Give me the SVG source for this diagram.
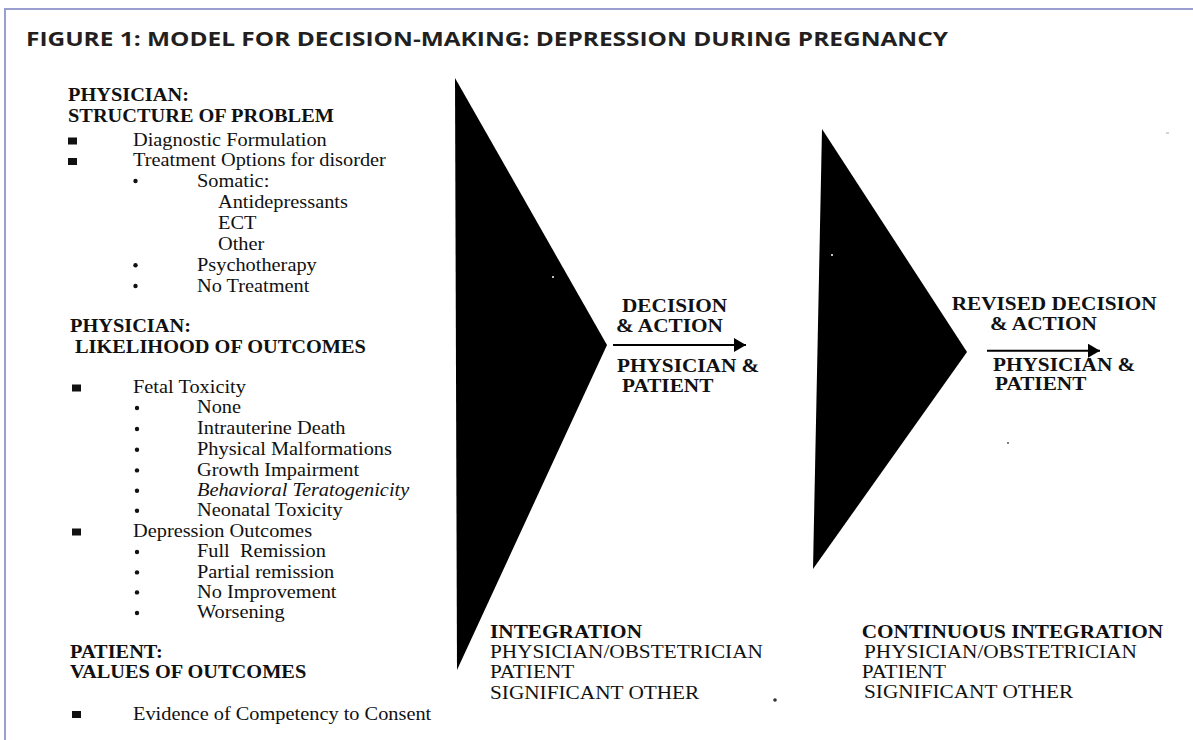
<svg xmlns="http://www.w3.org/2000/svg" width="1193" height="740" viewBox="0 0 1193 740">
<style>
.t{font-family:"Liberation Serif","Times New Roman",serif;font-size:18.5px;fill:#111;white-space:pre}
.b{font-weight:bold}
.i{font-style:italic}
.title{font-family:"Open Sans","Noto Sans",sans-serif;font-weight:bold;font-size:20px;fill:#231f20}
.frame{stroke:#9b9fd0;stroke-width:2;fill:none}
.sq{fill:#111}
.dot{fill:#111}
.conn{stroke:#000;stroke-width:2;fill:none}
</style>
<defs>
<marker id="ah" markerUnits="userSpaceOnUse" markerWidth="13" markerHeight="14" refX="12" refY="7" orient="auto">
<path d="M0,0 L12,7 L0,14 z" fill="#000"/>
</marker>
</defs>
<rect width="1193" height="740" fill="#fff"/>
<g id="frame">
<line class="frame" x1="5" y1="9" x2="1193" y2="9"/>
<line class="frame" x1="5" y1="8" x2="5" y2="740"/>
</g>
<g id="title">
<text class="title" x="26" y="46" textLength="922" lengthAdjust="spacingAndGlyphs">FIGURE 1: MODEL FOR DECISION-MAKING: DEPRESSION DURING PREGNANCY</text>
</g>

<g id="left-list">
<g id="bullets">
<rect class="sq" x="68" y="137.5" width="9" height="7"/>
<rect class="sq" x="68" y="158" width="9" height="7"/>
<circle class="dot" cx="135.5" cy="181" r="2.2"/>
<circle class="dot" cx="135.5" cy="265.3" r="2.2"/>
<circle class="dot" cx="135.5" cy="286" r="2.2"/>
<rect class="sq" x="72" y="384.5" width="9" height="7"/>
<circle class="dot" cx="137" cy="408" r="2.2"/>
<circle class="dot" cx="137" cy="429" r="2.2"/>
<circle class="dot" cx="137" cy="449.7" r="2.2"/>
<circle class="dot" cx="137" cy="470.4" r="2.2"/>
<circle class="dot" cx="137" cy="490.7" r="2.2"/>
<circle class="dot" cx="137" cy="510.7" r="2.2"/>
<rect class="sq" x="72" y="528.5" width="9" height="7"/>
<circle class="dot" cx="137" cy="552" r="2.2"/>
<circle class="dot" cx="137" cy="572.4" r="2.2"/>
<circle class="dot" cx="137" cy="592.4" r="2.2"/>
<circle class="dot" cx="137" cy="613" r="2.2"/>
<rect class="sq" x="72" y="711" width="9" height="7"/>
</g>
<g transform="scale(1.1,1)">
<text class="t b" x="61.82" y="100.7">PHYSICIAN:</text>
<text class="t b" x="61.82" y="122.3">STRUCTURE OF PROBLEM</text>
<text class="t" x="120.91" y="145.7">Diagnostic Formulation</text>
<text class="t" x="120.91" y="166">Treatment Options for disorder</text>
<text class="t" x="179.09" y="186.7">Somatic:</text>
<text class="t" x="198.18" y="208">Antidepressants</text>
<text class="t" x="198.18" y="229">ECT</text>
<text class="t" x="198.18" y="250">Other</text>
<text class="t" x="179.09" y="271">Psychotherapy</text>
<text class="t" x="179.09" y="291.7">No Treatment</text>
<text class="t b" x="63.64" y="331.7">PHYSICIAN:</text>
<text class="t b" x="68.18" y="353.3">LIKELIHOOD OF OUTCOMES</text>
<text class="t" x="120.91" y="393.3">Fetal Toxicity</text>
<text class="t" x="179.09" y="413.3">None</text>
<text class="t" x="179.09" y="434.3">Intrauterine Death</text>
<text class="t" x="179.09" y="455">Physical Malformations</text>
<text class="t" x="179.09" y="475.7">Growth Impairment</text>
<text class="t i" x="179.09" y="496">Behavioral Teratogenicity</text>
<text class="t" x="179.09" y="516">Neonatal Toxicity</text>
<text class="t" x="120.91" y="537.3">Depression Outcomes</text>
<text class="t" x="179.09" y="557.3">Full  Remission</text>
<text class="t" x="179.09" y="577.7">Partial remission</text>
<text class="t" x="179.09" y="597.7">No Improvement</text>
<text class="t" x="179.09" y="618.3">Worsening</text>
<text class="t b" x="63.64" y="658.3">PATIENT:</text>
<text class="t b" x="63.64" y="678.3">VALUES OF OUTCOMES</text>
<text class="t" x="120.91" y="720">Evidence of Competency to Consent</text>
</g>
</g>

<g id="triangle-1">
<polygon points="455,78 607,345 457,670" fill="#000"/>
<circle cx="553" cy="277" r="1" fill="#fff"/>
</g>
<g id="triangle-2">
<polygon points="822,129 967,352 813,569" fill="#000"/>
<circle cx="832" cy="255" r="1" fill="#fff"/>
</g>

<g id="decision-action" transform="scale(1.15,1)">
<text class="t b" x="540.87" y="311.7">DECISION</text>
<text class="t b" x="535.65" y="331.7">&amp; ACTION</text>
<text class="t b" x="536.52" y="371.7">PHYSICIAN &amp;</text>
<text class="t b" x="540.87" y="391.7">PATIENT</text>
</g>
<g id="integration" transform="scale(1.15,1)">
<text class="t b" x="426.09" y="638.3">INTEGRATION</text>
<text class="t" x="426.09" y="658.3">PHYSICIAN/OBSTETRICIAN</text>
<text class="t" x="426.09" y="678.3">PATIENT</text>
<text class="t" x="426.09" y="699">SIGNIFICANT OTHER</text>
</g>
<g id="revised-decision" transform="scale(1.15,1)">
<text class="t b" x="827.57" y="310">REVISED DECISION</text>
<text class="t b" x="860.87" y="330">&amp; ACTION</text>
<text class="t b" x="863.48" y="370.7">PHYSICIAN &amp;</text>
<text class="t b" x="865.22" y="390">PATIENT</text>
</g>
<g id="continuous-integration" transform="scale(1.15,1)">
<text class="t b" x="749.3" y="637.7">CONTINUOUS INTEGRATION</text>
<text class="t" x="751.3" y="657.7">PHYSICIAN/OBSTETRICIAN</text>
<text class="t" x="749.3" y="678.3">PATIENT</text>
<text class="t" x="751.3" y="698.3">SIGNIFICANT OTHER</text>
</g>

<g id="connectors">
<line class="conn" x1="613" y1="345" x2="746" y2="345" marker-end="url(#ah)"/>
<line class="conn" x1="987" y1="350.7" x2="1100" y2="350.7" marker-end="url(#ah)"/>
</g>

<g id="specks">
<circle cx="775" cy="700" r="1.8" fill="#333"/>
<circle cx="1008" cy="443" r="1" fill="#555"/>
<rect x="1166" y="132.5" width="3" height="1" fill="#aaa"/>
</g>
</svg>
